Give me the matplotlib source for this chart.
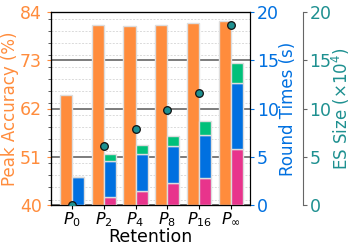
import matplotlib
matplotlib.use("Agg")
import matplotlib.pyplot as plt
import numpy as np
from matplotlib.ticker import MultipleLocator

categories = ["$P_{0}$", "$P_{2}$", "$P_{4}$", "$P_{8}$", "$P_{16}$", "$P_{\\infty}$"]
accuracy = [65.0, 81.0, 80.9, 81.1, 81.6, 82.0]
time_pink = [0.0, 0.8, 1.48, 2.25, 2.76, 5.77]
time_blue = [2.87, 3.76, 3.77, 3.83, 4.46, 6.9]
time_green = [0.0, 0.72, 0.94, 1.07, 1.52, 2.01]
es_size = [0.0, 6.15, 7.88, 9.8, 11.64, 18.7]

ORANGE = "#FF8C3C"
BLUE = "#0070E0"
PINK = "#E8348C"
GREEN = "#00C07A"
TEAL = "#1E9090"
EDGE = "#DDDDDD"

fig = plt.figure(figsize=(3.57, 2.5), dpi=100)
ax = fig.add_axes([0.143, 0.18, 0.557, 0.772])
ax2 = ax.twinx()
ax3 = ax.twinx()

x = np.arange(len(categories))
w = 0.38

ax.bar(x - w / 2, np.array(accuracy) - 40, bottom=40, width=w, color=ORANGE,
       edgecolor=EDGE, linewidth=1, zorder=3)
ax.set_ylim(40, 84)
ax.set_yticks([40, 51, 62, 73, 84])
ax.yaxis.set_minor_locator(MultipleLocator(2.75))
ax.tick_params(axis="y", which="major", colors=ORANGE, labelsize=12.5, length=3)
ax.tick_params(axis="y", which="minor", length=2, color="#444444")
for t in ax.get_yticklabels():
    t.set_color(ORANGE)
ax.set_ylabel("Peak Accuracy (%)", color=ORANGE, fontsize=12, labelpad=1)
ax.set_xlim(-0.66, 5.6)
ax.set_xticks(x)
ax.set_xticklabels(categories, fontsize=11.5)
ax.tick_params(axis="x", length=3, pad=1)
ax.set_xlabel("Retention", fontsize=12.5, labelpad=-1)
ax.grid(axis="y", which="minor", color="#DADADA", linestyle=(0, (2, 1.5)), linewidth=0.7, zorder=0)
ax.grid(axis="y", which="major", color="#666666", linewidth=1.2, zorder=0)
ax.set_axisbelow(True)

pink = np.array(time_pink)
blue = np.array(time_blue)
green = np.array(time_green)
ax2.bar(x + w / 2, pink, width=w, color=PINK, edgecolor=EDGE, linewidth=1, zorder=3)
ax2.bar(x + w / 2, blue, bottom=pink, width=w, color=BLUE, edgecolor=EDGE, linewidth=1, zorder=3)
ax2.bar(x + w / 2, green, bottom=pink + blue, width=w, color=GREEN, edgecolor=EDGE, linewidth=1, zorder=3)
ax2.set_ylim(0, 20)
ax2.set_yticks([0, 5, 10, 15, 20])
ax2.tick_params(axis="y", colors=BLUE, labelsize=12.5, length=3, pad=2)
ax2.set_ylabel("Round Times (s)", color=BLUE, fontsize=12, labelpad=0)

ax3.spines["right"].set_position(("axes", 1.265))
ax3.spines["right"].set_color("#666666")
ax3.plot(x, es_size, linestyle="none", marker="o", markersize=5.5,
         markerfacecolor=TEAL, markeredgecolor="#111111", markeredgewidth=0.9,
         zorder=5, clip_on=True)
ax3.set_ylim(0, 20)
ax3.set_yticks([0, 5, 10, 15, 20])
ax3.tick_params(axis="y", colors="#666666", labelcolor=TEAL, labelsize=12.5, length=3, pad=2)
ax3.set_ylabel("ES Size ($\\times10^4$)", color=TEAL, fontsize=12, labelpad=-1)

fig.savefig("out.png", dpi=100)
